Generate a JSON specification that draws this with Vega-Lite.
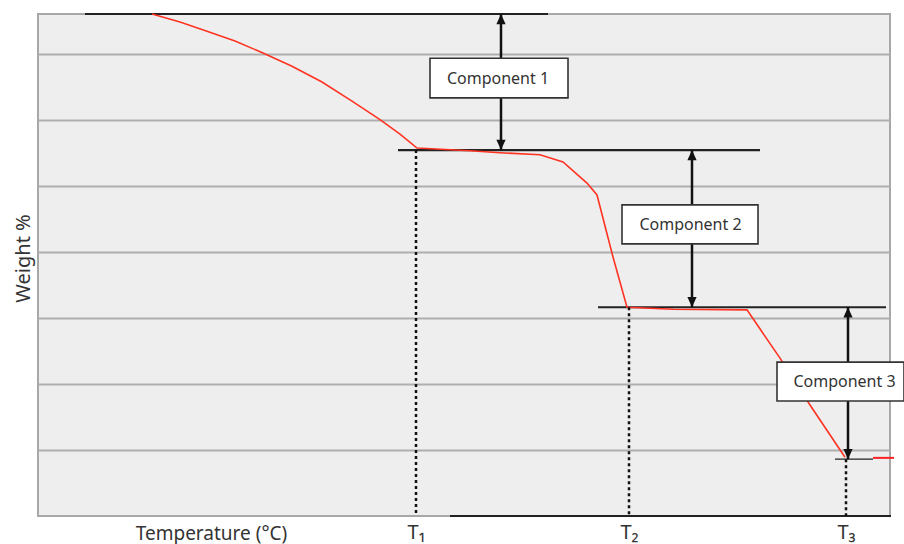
{
  "$schema": "https://vega.github.io/schema/vega-lite/v6.json",
  "width": 852,
  "height": 502,
  "autosize": {"type": "none"},
  "padding": {"left": 38, "top": 14, "right": 14, "bottom": 28},
  "background": "#ffffff",
  "config": {
    "view": {"fill": "#eeeeee", "stroke": "#a8a8a8", "strokeWidth": 2},
    "font": "Noto Sans"
  },
  "datasets": {
    "curve": [
      {"temp": 114, "weight": 7.6},
      {"temp": 142, "weight": 7.48},
      {"temp": 169, "weight": 7.34},
      {"temp": 197, "weight": 7.19},
      {"temp": 225, "weight": 7.01},
      {"temp": 254, "weight": 6.81},
      {"temp": 284, "weight": 6.57},
      {"temp": 314, "weight": 6.28},
      {"temp": 342, "weight": 6.0},
      {"temp": 362, "weight": 5.78},
      {"temp": 379, "weight": 5.57},
      {"temp": 432, "weight": 5.53},
      {"temp": 462, "weight": 5.5},
      {"temp": 502, "weight": 5.47},
      {"temp": 525, "weight": 5.36},
      {"temp": 549, "weight": 5.04},
      {"temp": 559, "weight": 4.86},
      {"temp": 575, "weight": 3.92},
      {"temp": 589, "weight": 3.16},
      {"temp": 635, "weight": 3.13},
      {"temp": 709, "weight": 3.12},
      {"temp": 742, "weight": 2.39},
      {"temp": 772, "weight": 1.68},
      {"temp": 807, "weight": 0.89}
    ],
    "tail": [
      {"temp": 835, "weight": 0.88},
      {"temp": 856, "weight": 0.88}
    ],
    "levels": [
      {"from": 47, "to": 510, "weight": 7.6, "kind": "major"},
      {"from": 360, "to": 722, "weight": 5.54, "kind": "major"},
      {"from": 560, "to": 848, "weight": 3.16, "kind": "major"},
      {"from": 797, "to": 835, "weight": 0.86, "kind": "minor"},
      {"from": 412, "to": 853, "weight": 0, "kind": "major"}
    ],
    "onsets": [
      {"temp": 378, "weight": 5.54, "label": "T₁"},
      {"temp": 591, "weight": 3.16, "label": "T₂"},
      {"temp": 808, "weight": 0.86, "label": "T₃"}
    ],
    "arrows": [
      {"temp": 463, "top": 7.6, "bottom": 5.54},
      {"temp": 654, "top": 5.54, "bottom": 3.16},
      {"temp": 810, "top": 3.16, "bottom": 0.86}
    ],
    "boxes": [
      {"label": "Component 1", "left": 392, "right": 530, "top": 6.93, "bottom": 6.33, "cx": 460, "cy": 6.62},
      {"label": "Component 2", "left": 584, "right": 720, "top": 4.71, "bottom": 4.12, "cx": 652.5, "cy": 4.41},
      {"label": "Component 3", "left": 739, "right": 866, "top": 2.33, "bottom": 1.74, "cx": 806.5, "cy": 2.03}
    ]
  },
  "layer": [
    {
      "data": {"name": "levels"},
      "transform": [{"filter": "datum.kind === 'major'"}],
      "mark": {"type": "rule", "color": "#222222", "strokeWidth": 2.2},
      "encoding": {
        "x": {
          "field": "from", "type": "quantitative",
          "scale": {"domain": [0, 852], "nice": false, "zero": false},
          "axis": {
            "values": [378, 591, 808],
            "labelExpr": "datum.value == 378 ? 'T₁' : datum.value == 591 ? 'T₂' : 'T₃'",
            "grid": false, "ticks": false, "tickSize": 0, "domain": false,
            "labelFont": "Noto Sans", "labelFontSize": 20, "labelColor": "#333333",
            "labelBaseline": "alphabetic", "labelPadding": 22, "labelFlush": false,
            "title": "Temperature (°C)",
            "titleFont": "Noto Sans", "titleFontSize": 19, "titleFontWeight": "normal", "titleColor": "#333333",
            "titleX": 173, "titleY": 23, "titleAlign": "center", "titleBaseline": "alphabetic", "titleAnchor": null
          }
        },
        "x2": {"field": "to"},
        "y": {
          "field": "weight", "type": "quantitative",
          "scale": {"domain": [0, 7.6], "nice": false, "zero": false},
          "axis": {
            "values": [1, 2, 3, 4, 5, 6, 7],
            "grid": true, "gridColor": "#aeaeae", "gridWidth": 2, "gridOpacity": 1,
            "labels": false, "ticks": false, "tickSize": 0, "domain": false,
            "title": "Weight %",
            "titleFont": "Noto Sans", "titleFontSize": 20, "titleFontWeight": "normal", "titleColor": "#333333",
            "titleAngle": 270, "titleX": -9, "titleY": 244, "titleAlign": "center", "titleBaseline": "alphabetic", "titleAnchor": null
          }
        }
      }
    },
    {
      "data": {"name": "levels"},
      "transform": [{"filter": "datum.kind === 'minor'"}],
      "mark": {"type": "rule", "color": "#222222", "strokeWidth": 1.2},
      "encoding": {
        "x": {"field": "from", "type": "quantitative"},
        "x2": {"field": "to"},
        "y": {"field": "weight", "type": "quantitative"}
      }
    },
    {
      "data": {"name": "curve"},
      "mark": {"type": "line", "color": "#ff3322", "strokeWidth": 1.6, "clip": false},
      "encoding": {
        "x": {"field": "temp", "type": "quantitative"},
        "y": {"field": "weight", "type": "quantitative"}
      }
    },
    {
      "data": {"name": "tail"},
      "mark": {"type": "line", "color": "#ff2222", "strokeWidth": 2, "clip": false},
      "encoding": {
        "x": {"field": "temp", "type": "quantitative"},
        "y": {"field": "weight", "type": "quantitative"}
      }
    },
    {
      "data": {"name": "onsets"},
      "mark": {"type": "rule", "color": "#111111", "strokeWidth": 2.5, "strokeDash": [3, 3]},
      "encoding": {
        "x": {"field": "temp", "type": "quantitative"},
        "y": {"field": "weight", "type": "quantitative"},
        "y2": {"datum": 0}
      }
    },
    {
      "data": {"name": "arrows"},
      "mark": {"type": "rule", "color": "#111111", "strokeWidth": 2.5},
      "encoding": {
        "x": {"field": "temp", "type": "quantitative"},
        "y": {"field": "top", "type": "quantitative"},
        "y2": {"field": "bottom"}
      }
    },
    {
      "data": {"name": "arrows"},
      "mark": {"type": "point", "shape": "M0,0L-0.45,1L0.45,1Z", "filled": true, "color": "#111111", "opacity": 1, "size": 420},
      "encoding": {
        "x": {"field": "temp", "type": "quantitative"},
        "y": {"field": "top", "type": "quantitative"}
      }
    },
    {
      "data": {"name": "arrows"},
      "mark": {"type": "point", "shape": "M0,0L-0.45,-1L0.45,-1Z", "filled": true, "color": "#111111", "opacity": 1, "size": 420},
      "encoding": {
        "x": {"field": "temp", "type": "quantitative"},
        "y": {"field": "bottom", "type": "quantitative"}
      }
    },
    {
      "data": {"name": "boxes"},
      "mark": {"type": "rect", "fill": "#ffffff", "stroke": "#333333", "strokeWidth": 1.6, "clip": false},
      "encoding": {
        "x": {"field": "left", "type": "quantitative"},
        "x2": {"field": "right"},
        "y": {"field": "top", "type": "quantitative"},
        "y2": {"field": "bottom"}
      }
    },
    {
      "data": {"name": "boxes"},
      "mark": {"type": "text", "font": "Noto Sans", "fontSize": 16, "color": "#333333", "align": "center", "baseline": "middle"},
      "encoding": {
        "x": {"field": "cx", "type": "quantitative"},
        "y": {"field": "cy", "type": "quantitative"},
        "text": {"field": "label"}
      }
    }
  ]
}
